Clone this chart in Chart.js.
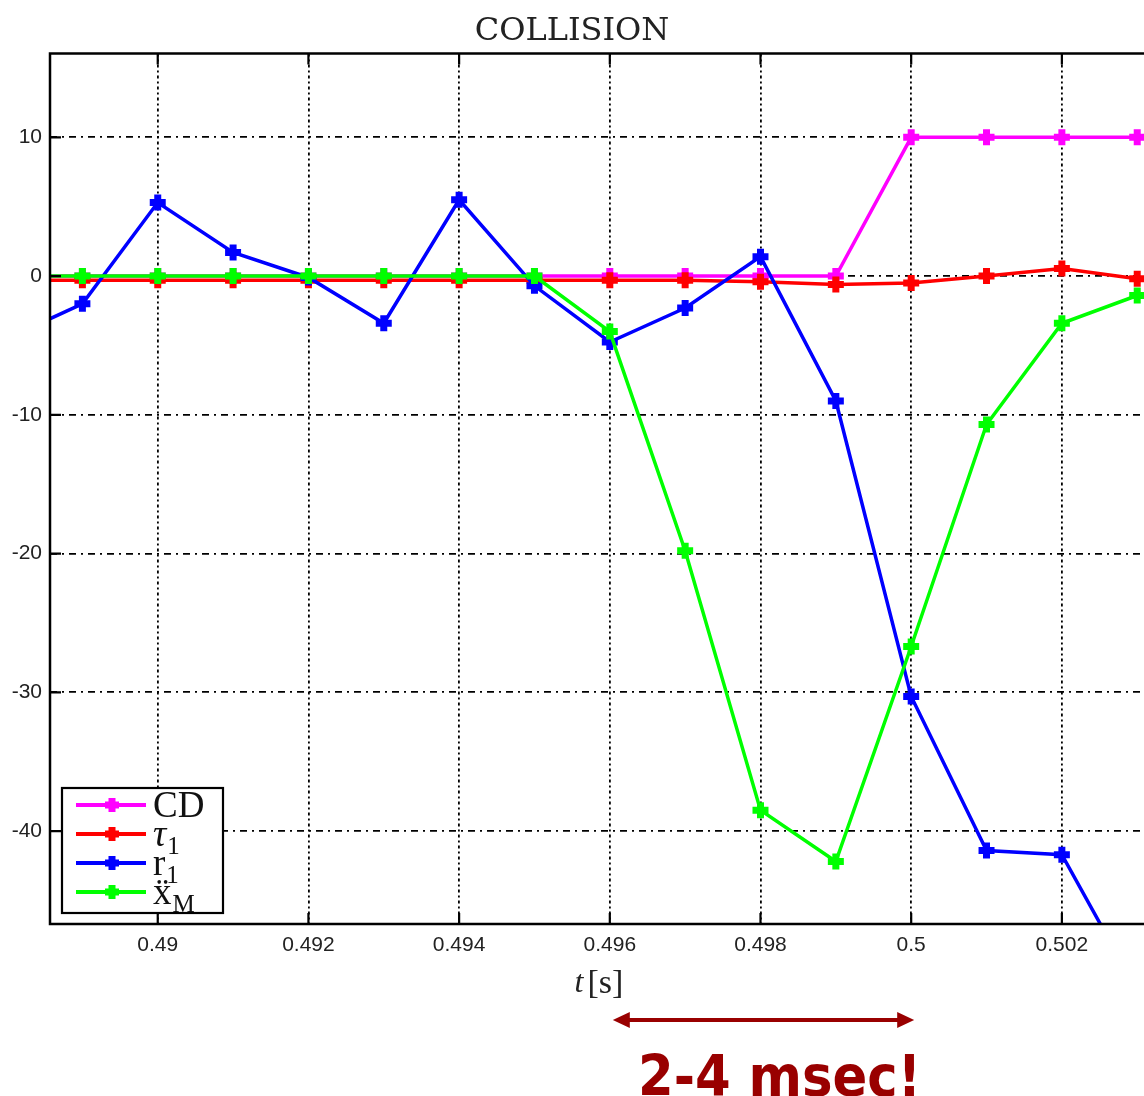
<!DOCTYPE html>
<html>
<head>
<meta charset="utf-8">
<title>Collision</title>
<script src="https://cdn.jsdelivr.net/npm/chart.js@4.4.1/dist/chart.umd.min.js"></script>
<style>
  html, body { margin: 0; padding: 0; background: #fff; overflow: hidden; }
</style>
</head>
<body>
<canvas id="collision-chart" width="1144" height="1096"></canvas>
<script>
// sample times [s] and the four signals around the impact
const times = [0.488, 0.489, 0.490, 0.491, 0.492, 0.493, 0.494, 0.495, 0.496, 0.497, 0.498, 0.499, 0.500, 0.501, 0.502, 0.503];
const cdValues = [0, 0, 0, 0, 0, 0, 0, 0, 0, 0, 0, 0, 10, 10, 10, 10];
const tauValues = [-0.3, -0.3, -0.3, -0.3, -0.3, -0.3, -0.3, -0.3, -0.3, -0.3, -0.4, -0.6, -0.5, 0.0, 0.55, -0.2];
const rValues = [-4.5, -2.0, 5.3, 1.7, -0.1, -3.4, 5.5, -0.7, -4.75, -2.3, 1.4, -9.0, -30.3, -41.4, -41.7, -51.5];
const xddValues = [0, 0, 0, 0, 0, 0, 0, 0, -4.0, -19.8, -38.5, -42.2, -26.7, -10.7, -3.4, -1.4];

const xTicks = [0.49, 0.492, 0.494, 0.496, 0.498, 0.5, 0.502];
const yTicks = [10, 0, -10, -20, -30, -40];

// legend text: [symbol, subscript]
const legendLabels = [['CD', ''], ['τ', '1'], ['r', '1'], ['ẍ', 'M']];

// detection window marked under the axis
const windowStart = 0.496;
const windowEnd = 0.5;
const windowLabel = '2-4 msec!';

const DARK_RED = '#990000';
const SERIF = '"Liberation Serif", "DejaVu Serif", serif';
const SANS = '"Liberation Sans", Arial, sans-serif';

function series(label, values, color, order) {
  return {
    label,
    data: times.map((t, i) => ({ x: t, y: values[i] })),
    borderColor: color,
    backgroundColor: color,
    borderWidth: 3.5,
    pointStyle: 'cross',
    pointRadius: 8,
    pointBorderWidth: 7,
    pointBorderColor: color,
    pointBackgroundColor: color,
    tension: 0,
    order
  };
}

const framePlugin = {
  id: 'frame',
  afterDatasetsDraw(chart) {
    const { ctx, chartArea: a, scales: { x, y } } = chart;
    ctx.save();
    ctx.strokeStyle = '#000';
    ctx.lineWidth = 2.5;
    ctx.beginPath();
    ctx.moveTo(a.right + 5, a.top);
    ctx.lineTo(a.left, a.top);
    ctx.lineTo(a.left, a.bottom);
    ctx.lineTo(a.right + 5, a.bottom);
    ctx.stroke();

    // inward tick marks
    ctx.lineWidth = 2.2;
    ctx.beginPath();
    x.ticks.forEach(t => {
      const px = x.getPixelForValue(t.value);
      ctx.moveTo(px, a.top);
      ctx.lineTo(px, a.top + 11);
      ctx.moveTo(px, a.bottom);
      ctx.lineTo(px, a.bottom - 11);
    });
    y.ticks.forEach(t => {
      const py = y.getPixelForValue(t.value);
      ctx.moveTo(a.left, py);
      ctx.lineTo(a.left + 11, py);
    });
    ctx.stroke();

    // legend box, bottom left inside the plot
    const bx = a.left + 12;
    const bw = 161;
    const bh = 125;
    const by = a.bottom - 11 - bh;
    ctx.fillStyle = '#fff';
    ctx.fillRect(bx, by, bw, bh);
    ctx.lineWidth = 2.2;
    ctx.strokeRect(bx, by, bw, bh);

    chart.data.datasets.forEach((ds, i) => {
      const rowY = by + 17 + i * 29;
      ctx.strokeStyle = ds.borderColor;
      ctx.lineWidth = 4;
      ctx.beginPath();
      ctx.moveTo(bx + 14, rowY);
      ctx.lineTo(bx + 84, rowY);
      ctx.stroke();
      ctx.lineWidth = 7;
      ctx.beginPath();
      ctx.moveTo(bx + 50 - 7, rowY);
      ctx.lineTo(bx + 50 + 7, rowY);
      ctx.moveTo(bx + 50, rowY - 7);
      ctx.lineTo(bx + 50, rowY + 7);
      ctx.stroke();

      const [sym, sub] = legendLabels[i];
      ctx.fillStyle = '#111';
      ctx.textAlign = 'left';
      ctx.textBaseline = 'alphabetic';
      ctx.font = (sym === 'τ' ? 'italic ' : '') + '37px ' + SERIF;
      ctx.fillText(sym, bx + 91, rowY + 12);
      const w = ctx.measureText(sym).width;
      if (sub) {
        ctx.font = '25px ' + SERIF;
        ctx.fillText(sub, bx + 92 + w, rowY + 20);
      }
    });
    ctx.restore();
  },
  afterDraw(chart) {
    const { ctx, chartArea: a, scales: { x } } = chart;
    ctx.save();

    // axis title t [s]
    const cx = (a.left + a.right) / 2 + 2;
    ctx.fillStyle = '#222';
    ctx.textBaseline = 'alphabetic';
    ctx.textAlign = 'left';
    ctx.font = 'italic 32px ' + SERIF;
    const tw = ctx.measureText('t').width + 4;
    ctx.font = '34px ' + SERIF;
    const sw = ctx.measureText('[s]').width;
    const tx = cx - (tw + sw) / 2;
    ctx.font = 'italic 32px ' + SERIF;
    ctx.fillText('t', tx, 992);
    ctx.font = '34px ' + SERIF;
    ctx.fillText('[s]', tx + tw, 993);

    // double arrow over the detection window
    const x0 = x.getPixelForValue(windowStart) + 3;
    const x1 = x.getPixelForValue(windowEnd) + 3;
    const ay = 1020;
    ctx.strokeStyle = DARK_RED;
    ctx.fillStyle = DARK_RED;
    ctx.lineWidth = 4;
    ctx.beginPath();
    ctx.moveTo(x0 + 10, ay);
    ctx.lineTo(x1 - 10, ay);
    ctx.stroke();
    ctx.beginPath();
    ctx.moveTo(x0, ay);
    ctx.lineTo(x0 + 17, ay - 8);
    ctx.lineTo(x0 + 17, ay + 8);
    ctx.closePath();
    ctx.moveTo(x1, ay);
    ctx.lineTo(x1 - 17, ay - 8);
    ctx.lineTo(x1 - 17, ay + 8);
    ctx.closePath();
    ctx.fill();

    ctx.font = 'bold 57px "DejaVu Sans Condensed", "Liberation Sans", sans-serif';
    ctx.textAlign = 'center';
    ctx.fillText(windowLabel, (x0 + x1) / 2 + 16, 1096);
    ctx.restore();
  }
};

new Chart(document.getElementById('collision-chart'), {
  type: 'line',
  data: {
    datasets: [
      series('CD', cdValues, '#ff00ff', 4),
      series('τ1', tauValues, '#ff0000', 3),
      series('r1', rValues, '#0000ff', 2),
      series('ẍM', xddValues, '#00ff00', 1)
    ]
  },
  options: {
    responsive: false,
    animation: false,
    layout: { padding: 0, autoPadding: false },
    plugins: {
      legend: { display: false },
      tooltip: { enabled: false },
      title: {
        display: true,
        text: 'COLLISION',
        color: '#222',
        font: { family: '"DejaVu Serif", serif', size: 32, weight: 'normal' },
        padding: { top: 12, bottom: 3 }
      }
    },
    scales: {
      x: {
        type: 'linear',
        position: 'bottom',
        min: 0.48857,
        max: 0.50309,
        afterBuildTicks: s => { s.ticks = xTicks.map(v => ({ value: v })); },
        afterFit: s => {
          s.height = 172;
          s.paddingLeft = 0;
          s.paddingRight = 0;
        },
        grid: { color: '#000', lineWidth: 1.8, drawTicks: false },
        border: { display: false, dash: [3, 3, 2, 3] },
        ticks: {
          padding: 9,
          color: '#222',
          autoSkip: false,
          maxRotation: 0,
          font: { family: SANS, size: 21 },
          callback: v => String(v)
        }
      },
      y: {
        type: 'linear',
        min: -46.7,
        max: 16.05,
        afterBuildTicks: s => { s.ticks = yTicks.map(v => ({ value: v })); },
        afterFit: s => {
          s.width = 50;
          s.paddingTop = 0;
          s.paddingBottom = 0;
        },
        grid: { color: '#000', lineWidth: 1.8, drawTicks: false },
        border: { display: false, dash: [7, 5, 2, 5] },
        ticks: {
          padding: 8,
          color: '#222',
          font: { family: SANS, size: 21 },
          callback: v => String(v)
        }
      }
    }
  },
  plugins: [framePlugin]
});
</script>
</body>
</html>
